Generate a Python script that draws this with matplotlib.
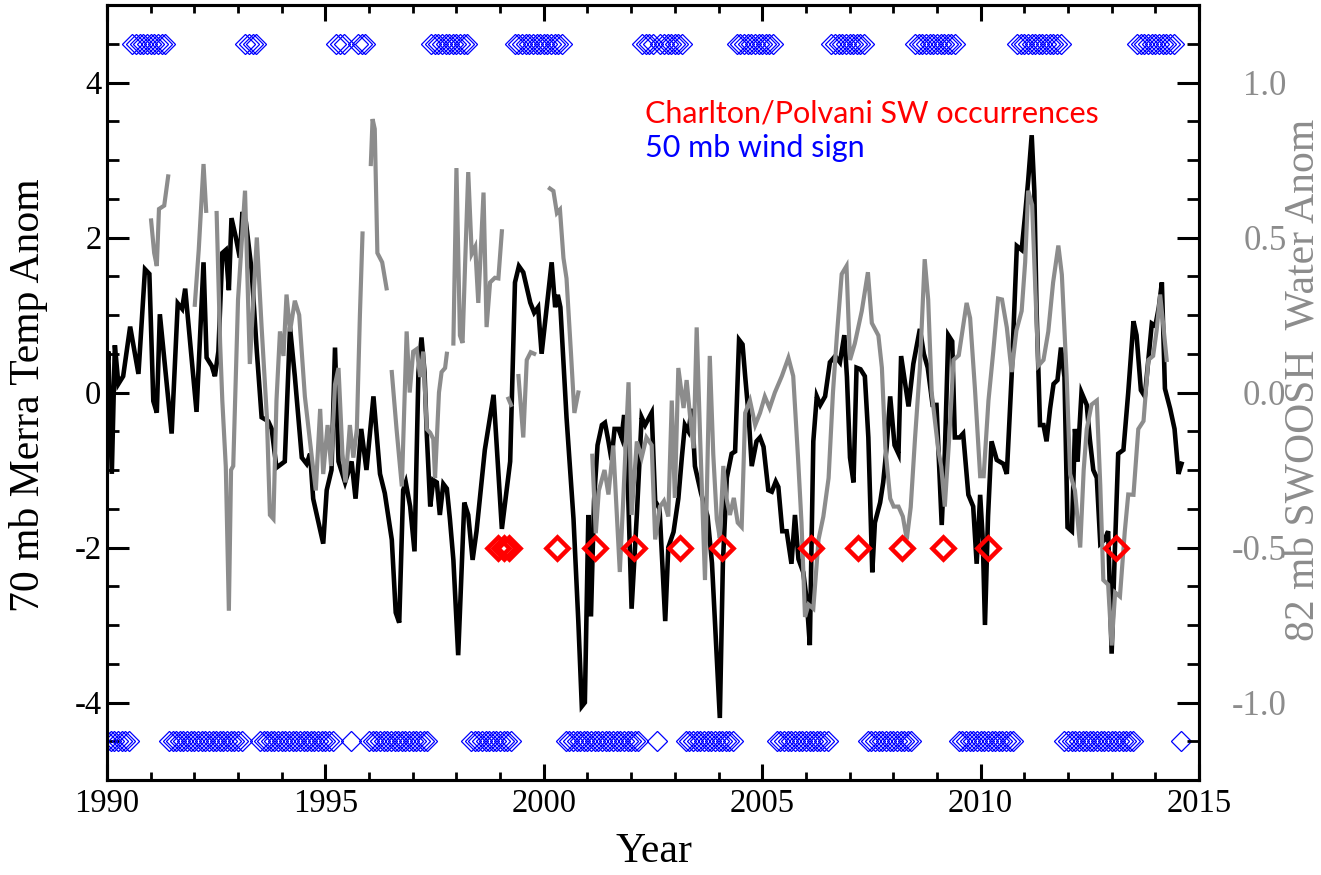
import numpy as np
import matplotlib
matplotlib.use("Agg")
import matplotlib.pyplot as plt
from matplotlib.ticker import MultipleLocator, FixedLocator, FixedFormatter

plt.rcParams['axes.unicode_minus'] = False

# ---------------- data ----------------
# 70 mb MERRA temperature anomaly (left axis), vertices
temp_years = [1990.00, 1990.03, 1990.11, 1990.18, 1990.26, 1990.37, 1990.53, 1990.72, 1990.87, 1990.97,
              1991.06, 1991.14, 1991.21, 1991.48, 1991.62, 1991.72, 1991.79, 1992.05, 1992.21, 1992.28,
              1992.40, 1992.47, 1992.55, 1992.64, 1992.72, 1992.79, 1992.85, 1992.95, 1993.04, 1993.10,
              1993.18, 1993.31, 1993.43, 1993.54, 1993.69, 1993.77, 1993.88, 1994.07, 1994.19, 1994.30,
              1994.46, 1994.57, 1994.65, 1994.72, 1994.95, 1995.03, 1995.14, 1995.22, 1995.30, 1995.45,
              1995.60, 1995.69, 1995.82, 1995.94, 1996.10, 1996.25, 1996.36, 1996.52, 1996.61, 1996.69,
              1996.78, 1996.84, 1996.94, 1997.04, 1997.13, 1997.20, 1997.27, 1997.32, 1997.40, 1997.47,
              1997.55, 1997.62, 1997.70, 1997.78, 1997.85, 1997.93, 1998.04, 1998.18, 1998.27, 1998.37,
              1998.46, 1998.65, 1998.85, 1999.04, 1999.23, 1999.34, 1999.43, 1999.53, 1999.69, 1999.78,
              1999.87, 1999.95, 2000.07, 2000.18, 2000.26, 2000.32, 2000.38, 2000.52, 2000.68, 2000.79,
              2000.87, 2000.94, 2001.02, 2001.08, 2001.15, 2001.23, 2001.33, 2001.40, 2001.48, 2001.55,
              2001.62, 2001.71, 2001.78, 2001.84, 2001.92, 2002.01, 2002.13, 2002.24, 2002.32, 2002.47,
              2002.55, 2002.65, 2002.78, 2002.85, 2002.97, 2003.08, 2003.16, 2003.23, 2003.31, 2003.39,
              2003.46, 2003.60, 2003.75, 2003.85, 2004.03, 2004.10, 2004.19, 2004.30, 2004.38, 2004.47,
              2004.55, 2004.61, 2004.69, 2004.76, 2004.87, 2004.95, 2005.03, 2005.14, 2005.22, 2005.31,
              2005.37, 2005.46, 2005.56, 2005.67, 2005.75, 2005.83, 2005.94, 2006.02, 2006.09, 2006.17,
              2006.25, 2006.33, 2006.44, 2006.55, 2006.67, 2006.78, 2006.88, 2006.94, 2007.01, 2007.09,
              2007.16, 2007.25, 2007.35, 2007.43, 2007.52, 2007.58, 2007.70, 2007.77, 2007.85, 2007.93,
              2008.03, 2008.12, 2008.18, 2008.35, 2008.46, 2008.61, 2008.70, 2008.79, 2008.90, 2008.99,
              2009.11, 2009.18, 2009.26, 2009.35, 2009.41, 2009.52, 2009.60, 2009.72, 2009.83, 2009.91,
              2009.99, 2010.05, 2010.10, 2010.17, 2010.25, 2010.37, 2010.52, 2010.60, 2010.71, 2010.83,
              2010.94, 2011.02, 2011.09, 2011.17, 2011.23, 2011.28, 2011.36, 2011.44, 2011.51, 2011.59,
              2011.67, 2011.76, 2011.84, 2011.92, 2011.99, 2012.09, 2012.16, 2012.22, 2012.31, 2012.43,
              2012.50, 2012.58, 2012.66, 2012.74, 2012.84, 2012.92, 2013.00, 2013.07, 2013.15, 2013.27,
              2013.38, 2013.50, 2013.57, 2013.67, 2013.76, 2013.92, 2014.00, 2014.08, 2014.15, 2014.22,
              2014.34, 2014.44, 2014.53, 2014.60]
temp_anom = [0.25, 0.53, -1.05, 0.61, 0.11, 0.21, 0.85, 0.24, 1.59, 1.53,
             -0.11, -0.26, 1.01, -0.53, 1.15, 1.08, 1.34, -0.25, 1.68, 0.45,
             0.34, 0.21, 0.53, 1.80, 1.84, 1.32, 2.25, 2.00, 1.74, 2.33,
             2.20, 1.58, 0.53, -0.32, -0.37, -0.47, -0.97, -0.89, 0.84, 0.21,
             -0.84, -0.92, -0.79, -1.37, -1.95, -1.26, -1.00, 0.58, -0.89, -1.16,
             -0.89, -1.37, -0.47, -1.00, -0.05, -1.05, -1.30, -1.90, -2.84, -2.97,
             -1.26, -1.16, -1.47, -2.05, 0.26, 0.71, 0.26, -0.53, -1.47, -1.13,
             -1.16, -1.58, -1.18, -1.24, -1.63, -2.16, -3.39, -1.42, -1.58, -2.16,
             -1.79, -0.74, -0.03, -1.76, -0.89, 1.42, 1.63, 1.55, 1.16, 1.03,
             1.10, 0.50, 1.11, 1.68, 1.10, 1.26, 1.10, -0.32, -1.63, -2.95,
             -4.05, -4.00, -1.58, -2.89, -1.40, -0.68, -0.42, -0.39, -0.63, -0.87,
             -0.47, -0.47, -0.58, -0.29, -1.10, -2.79, -1.58, -0.32, -0.42, -0.26,
             -1.40, -1.50, -2.95, -2.00, -1.80, -1.37, -0.84, -0.42, -0.50, -0.21,
             -0.95, -1.30, -1.60, -2.20, -4.20, -2.20, -1.10, -0.79, -0.76, 0.68,
             0.62, 0.21, -0.30, -0.95, -0.63, -0.58, -0.70, -1.26, -1.28, -1.15,
             -1.22, -1.79, -1.79, -2.21, -1.58, -2.15, -2.32, -2.68, -3.26, -0.63,
             -0.05, -0.16, -0.05, 0.39, 0.47, 0.39, 0.74, 0.20, -0.84, -1.16,
             0.32, 0.30, 0.21, -0.58, -2.32, -1.68, -1.42, -1.16, -0.70, -0.05,
             -0.68, -0.79, 0.47, -0.18, 0.37, 0.82, 0.50, 0.32, -0.16, -0.16,
             -1.71, -0.80, 0.74, 0.66, -0.58, -0.58, -0.53, -1.32, -1.47, -2.21,
             -1.32, -1.90, -3.00, -1.60, -0.63, -0.87, -0.92, -1.05, 0.21, 1.89,
             1.84, 2.30, 2.74, 3.32, 2.60, 1.10, -0.42, -0.42, -0.63, -0.21,
             0.11, 0.16, 0.58, 0.20, -1.74, -1.79, -0.47, -0.89, 0.00, -0.16,
             -0.60, -1.00, -1.10, -1.95, -1.90, -1.79, -3.37, -2.10, -0.79, -0.74,
             0.00, 0.92, 0.74, 0.03, -0.05, 0.89, 0.86, 1.10, 1.42, 0.05,
             -0.21, -0.47, -1.05, -0.92]

# 82 mb SWOOSH water vapour anomaly (right axis); NaN marks data gaps
water_years = [1991.01, 1991.08, 1991.14, 1991.19, 1991.31, 1991.40, 1991.70,
               1992.01, 1992.10, 1992.21, 1992.27, 1992.40,
               1992.51, 1992.59, 1992.64, 1992.72, 1992.79, 1992.84, 1992.89, 1993.00, 1993.16, 1993.27,
               1993.43, 1993.54, 1993.66, 1993.73, 1993.81, 1993.88, 1993.96, 1994.04, 1994.11, 1994.19,
               1994.30, 1994.40, 1994.53, 1994.69, 1994.78, 1994.88, 1994.95, 1995.05, 1995.13, 1995.22,
               1995.30, 1995.39, 1995.46, 1995.56, 1995.64, 1995.72, 1995.79, 1995.85, 1995.95,
               1996.04, 1996.08, 1996.13, 1996.19, 1996.30, 1996.40, 1996.46,
               1996.52, 1996.63, 1996.75, 1996.86, 1996.93, 1997.01, 1997.09, 1997.17, 1997.24, 1997.32,
               1997.40, 1997.47, 1997.51, 1997.60, 1997.66, 1997.74, 1997.78, 1997.85,
               1997.93, 1998.00, 1998.08, 1998.14, 1998.20, 1998.27, 1998.35, 1998.43, 1998.50, 1998.62,
               1998.69, 1998.77, 1998.88, 1998.96, 1999.04, 1999.12,
               1999.19, 1999.25, 1999.33,
               1999.42, 1999.53, 1999.61, 1999.70, 1999.78, 1999.95,
               2000.14, 2000.22, 2000.30, 2000.37, 2000.45, 2000.52, 2000.62, 2000.70, 2000.79, 2000.95,
               2001.11, 2001.19, 2001.26, 2001.39, 2001.48, 2001.59, 2001.74, 2001.82, 2001.94, 2002.01,
               2002.13, 2002.24, 2002.35, 2002.47, 2002.55, 2002.66, 2002.75, 2002.85, 2002.93, 2003.00,
               2003.08, 2003.20, 2003.27, 2003.35, 2003.43, 2003.50, 2003.58, 2003.69, 2003.80, 2003.88,
               2003.96, 2004.03, 2004.11, 2004.18, 2004.26, 2004.35, 2004.44, 2004.53, 2004.61, 2004.72,
               2004.84, 2004.95, 2005.06, 2005.17, 2005.29, 2005.45, 2005.60, 2005.71, 2005.82, 2005.90,
               2005.98, 2006.06, 2006.17, 2006.29, 2006.40, 2006.52, 2006.62, 2006.71, 2006.82, 2006.93,
               2007.01, 2007.12, 2007.28, 2007.42, 2007.51, 2007.66, 2007.74, 2007.82, 2007.93, 2008.01,
               2008.12, 2008.22, 2008.31, 2008.40, 2008.50, 2008.61, 2008.72, 2008.80, 2008.88, 2009.03,
               2009.10, 2009.18, 2009.28, 2009.38, 2009.50, 2009.68, 2009.76, 2009.87, 2009.99, 2010.07,
               2010.18, 2010.29, 2010.40, 2010.49, 2010.60, 2010.71, 2010.82, 2010.94, 2011.02, 2011.09,
               2011.18, 2011.25, 2011.32, 2011.44, 2011.55, 2011.66, 2011.78, 2011.86, 2011.97, 2012.05,
               2012.16, 2012.28, 2012.36, 2012.43, 2012.54, 2012.66, 2012.74, 2012.81, 2012.92, 2013.00,
               2013.08, 2013.19, 2013.30, 2013.38, 2013.50, 2013.61, 2013.73, 2013.84, 2013.95, 2014.03,
               2014.11, 2014.18, 2014.26]
water_anom = [0.555, 0.45, 0.408, 0.592, 0.603, 0.697, np.nan,
              0.283, 0.46, 0.737, 0.586, np.nan,
              0.579, 0.158, -0.026, -0.24, -0.704, -0.25, -0.237, 0.30, 0.651, 0.092,
              0.50, 0.21, -0.079, -0.395, -0.408, -0.026, 0.197, 0.118, 0.316, 0.197,
              0.296, 0.25, -0.013, -0.21, -0.316, -0.053, -0.263, -0.105, -0.237, 0.026,
              0.079, -0.197, -0.29, -0.105, -0.21, -0.118, 0.25, 0.513, np.nan,
              0.737, 0.882, 0.85, 0.45, 0.42, 0.336, np.nan,
              0.066, -0.12, -0.303, 0.197, 0.0, 0.132, 0.14, 0.05, 0.132, -0.118,
              -0.13, -0.15, -0.276, 0.0, 0.066, 0.079, 0.125, np.nan,
              0.158, 0.724, 0.184, 0.16, 0.421, 0.711, 0.447, 0.47, 0.289, 0.645,
              0.211, 0.355, 0.37, 0.368, 0.520, np.nan,
              -0.02, -0.04, np.nan,
              0.053, -0.145, 0.105, 0.13, 0.125, np.nan,
              0.658, 0.65, 0.579, 0.59, 0.434, 0.368, 0.132, -0.066, 0.0, np.nan,
              -0.204, -0.454, -0.316, -0.25, -0.329, -0.171, -0.579, -0.342, 0.033, -0.395,
              -0.158, -0.21, -0.145, -0.17, -0.474, -0.368, -0.35, -0.40, -0.026, -0.34,
              0.079, -0.05, 0.04, -0.079, -0.18, 0.21, -0.15, -0.605, 0.118, -0.20,
              -0.408, -0.47, -0.237, -0.34, -0.395, -0.34, -0.42, -0.434, -0.066, -0.026,
              -0.105, -0.066, -0.013, -0.05, 0.0, 0.053, 0.112, 0.053, -0.21, -0.421,
              -0.724, -0.684, -0.697, -0.474, -0.40, -0.276, 0.0, 0.184, 0.382, 0.408,
              0.105, 0.158, 0.263, 0.388, 0.224, 0.184, 0.08, -0.18, -0.342, -0.368,
              -0.368, -0.40, -0.474, -0.37, -0.145, 0.079, 0.43, 0.30, 0.0, -0.184,
              -0.24, -0.368, -0.15, 0.105, 0.12, 0.289, 0.24, 0.013, -0.27, -0.27,
              -0.026, 0.132, 0.303, 0.30, 0.21, 0.066, 0.20, 0.263, 0.42, 0.651,
              0.605, 0.35, 0.086, 0.105, 0.197, 0.355, 0.474, 0.38, 0.053, -0.263,
              -0.316, -0.50, -0.25, -0.118, -0.039, -0.026, -0.30, -0.605, -0.62, -0.816,
              -0.645, -0.658, -0.45, -0.329, -0.33, -0.118, -0.092, 0.105, 0.118, 0.20,
              0.316, 0.22, 0.105]

# Charlton/Polvani sudden warming occurrences
ssw_years = [1998.96, 1999.08, 1999.20, 2000.30, 2001.18, 2002.07, 2003.12, 2004.09,
             2006.12, 2007.20, 2008.20, 2009.13, 2010.17, 2013.09]
ssw_level = -2.0

# 50 mb wind sign, one entry per month starting January 1990 (+1 westerly, -1 easterly, 0 none)
wind_start = 1990.0
wind_sign = ([-1] * 7 + [1] * 10 + [-1] * 21 + [1] * 4 + [-1] * 21 + [1] * 3 + [0] + [-1] + [0]
             + [1] * 3 + [-1] * 17 + [1] * 11 + [-1] * 12 + [1] * 14 + [-1] * 21 + [1] * 4 + [-1]
             + [1] * 7 + [-1] * 14 + [1] * 11 + [-1] * 15 + [1] * 10 + [-1] * 13 + [1] * 12
             + [-1] * 16 + [1] * 13 + [-1] * 20 + [1] * 11 + [0] + [-1])
wind_level = 4.5

x_ticks = [1990, 1995, 2000, 2005, 2010, 2015]
left_ticks = [-4, -2, 0, 2, 4]
right_ticks = [-1.0, -0.5, 0.0, 0.5, 1.0]
right_ticklabels = ['-1.0', '-0.5', '0.0', '0.5', '1.0']

# ---------------- figure ----------------
W, H = 1321, 875
fig = plt.figure(figsize=(W / 100, H / 100), dpi=100)
L, R, T, B = 107, 1199, 5, 780
ax = fig.add_axes([L / W, 1 - B / H, (R - L) / W, (B - T) / H])
ax2 = ax.twinx()

GRAY = '#8c8c8c'
SERIF = 'Liberation Serif'

ax.set_xlim(1990, 2015)
ax.set_ylim(-5, 5)
ax2.set_ylim(-1.25, 1.25)

# wind sign diamonds
months = np.arange(len(wind_sign))
wt = wind_start + months / 12.0
ws = np.array(wind_sign)
ax.plot(wt[ws > 0], np.full((ws > 0).sum(), wind_level), linestyle='none',
        marker=(4, 0, 0), ms=14.5, mfc='none', mec='#0000ff', mew=0.9, zorder=2)
ax.plot(wt[ws < 0], np.full((ws < 0).sum(), -wind_level), linestyle='none',
        marker=(4, 0, 0), ms=14.5, mfc='none', mec='#0000ff', mew=0.9, zorder=2)

# temperature line (black)
ax.plot(temp_years, temp_anom, color='black', lw=3.3, solid_joinstyle='miter', zorder=3)

# water line (gray) on the right axis
ax2.plot(water_years, water_anom, color=GRAY, lw=3.0, solid_joinstyle='miter', zorder=3)

# SSW diamonds, drawn on top
ax2.plot(np.array(ssw_years), np.full(len(ssw_years), ssw_level / 4.0), linestyle='none',
         marker=(4, 0, 0), ms=16, mfc='none', mec='#ff0000', mew=3.2, zorder=5)
ax2.set_zorder(ax.get_zorder() + 1)
ax2.patch.set_visible(False)

# ---- axes styling (IDL look) ----
for a in (ax, ax2):
    for s in a.spines.values():
        s.set_linewidth(2.2)

TICKSIZE = 23.5
ax.xaxis.set_major_locator(FixedLocator(x_ticks))
ax.xaxis.set_minor_locator(MultipleLocator(1))
ax.yaxis.set_major_locator(FixedLocator(left_ticks))
ax.yaxis.set_minor_locator(MultipleLocator(0.5))
ax.set_yticklabels([str(v) for v in left_ticks])
ax.tick_params(axis='x', which='major', direction='in', length=11.5, width=2.2, top=True,
               labelsize=TICKSIZE, pad=6)
ax.tick_params(axis='x', which='minor', direction='in', length=5.8, width=2.0, top=True)
ax.tick_params(axis='y', which='major', direction='in', length=16, width=2.2, right=False,
               labelsize=TICKSIZE, pad=4)
ax.tick_params(axis='y', which='minor', direction='in', length=8.5, width=2.0, right=False)
for lab in ax.get_xticklabels() + ax.get_yticklabels():
    lab.set_fontfamily(SERIF)

ax2.yaxis.set_major_locator(FixedLocator(right_ticks))
ax2.yaxis.set_major_formatter(FixedFormatter(right_ticklabels))
ax2.yaxis.set_minor_locator(MultipleLocator(0.125))
ax2.tick_params(axis='y', which='major', direction='in', length=16, width=2.2,
                labelsize=25, labelcolor=GRAY, pad=63)
ax2.tick_params(axis='y', which='minor', direction='in', length=8.5, width=2.0)
for lab in ax2.get_yticklabels():
    lab.set_fontfamily(SERIF)
    lab.set_horizontalalignment('right')

# axis titles
fig.text(654 / W, 1 - 852 / H, 'Year', ha='center', va='center', fontsize=30, family=SERIF)
fig.text(29 / W, 1 - 395 / H, '70 mb Merra Temp Anom', rotation=90, ha='center', va='center',
         fontsize=30, family=SERIF)
fig.text(1303 / W, 1 - 380 / H, '82 mb SWOOSH  Water Anom', rotation=90, ha='center', va='center',
         fontsize=30, family=SERIF, color=GRAY)

# in-plot legend text
fig.text(645 / W, 1 - 123 / H, 'Charlton/Polvani SW occurrences', color='#ff0000',
         fontsize=22, family='Lato', va='baseline', ha='left')
fig.text(645 / W, 1 - 157 / H, '50 mb wind sign', color='#0000ff',
         fontsize=22, family='Lato', va='baseline', ha='left')

fig.savefig('out.png', dpi=100)
